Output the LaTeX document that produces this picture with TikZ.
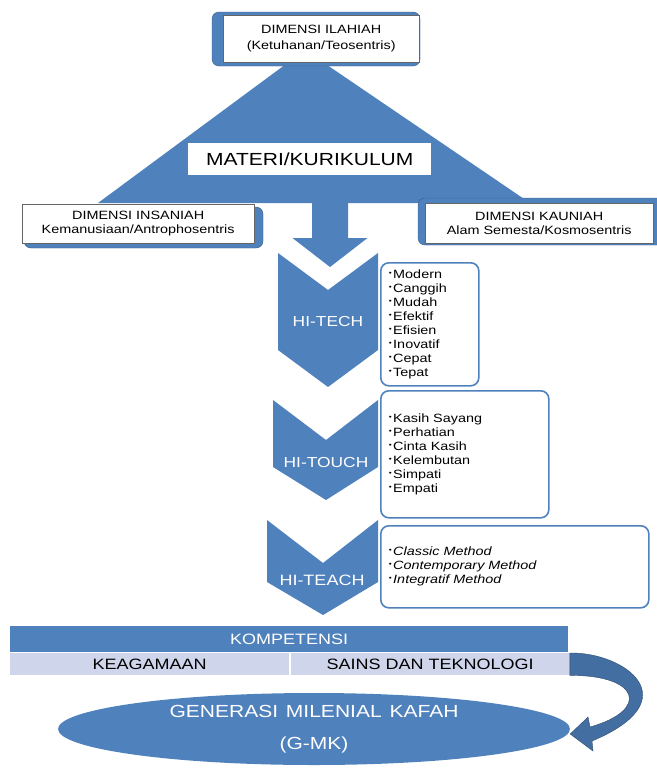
\documentclass[tikz,border=0pt]{standalone}
\usepackage{fontspec}
\setmainfont{Liberation Sans}[FakeStretch=1.2]
\usepackage{tikz}
\usetikzlibrary{positioning,shapes.geometric}
\definecolor{biru}{HTML}{4F81BD}
\definecolor{lembayung}{HTML}{CFD5EA}
\newcommand{\itm}{\raisebox{0.5ex}{\fontsize{7}{7}\selectfont\textbullet}\hspace{1.5pt}}

\begin{document}
\begin{tikzpicture}[x=1pt,y=-1pt,font=\fontsize{12}{16}\selectfont]
  \tikzstyle{dimback}=[fill=biru,draw=biru!70!black,thin,rounded corners=7pt]
  \tikzstyle{dimbox}=[fill=white,draw=black!60,thin,align=center,inner sep=0pt,anchor=north west]
  \tikzstyle{chevtext}=[text=white,font=\fontsize{14.5}{14.5}\selectfont]
  \tikzstyle{listbox}=[draw=biru,line width=1.6pt,fill=white,rounded corners=8pt,anchor=north west,
                       align=left,inner xsep=8pt,inner ysep=0pt,font=\fontsize{12}{14}\selectfont]
  \tikzstyle{baris}=[fill=lembayung,minimum width=279,minimum height=22,inner sep=0pt,
                     font=\fontsize{15}{15}\selectfont]

  \useasboundingbox (0,0) rectangle (656,771);

  \fill[biru] (305,50) -- (530,203) -- (98,203) -- cycle;

  \fill[dimback] (212,12) rectangle (420,66);
  \node[dimbox,minimum width=196,minimum height=47] (I) at (223,15)
       {DIMENSI ILAHIAH\\(Ketuhanan/Teosentris)};
  \node[dimbox,draw=none,minimum width=243,minimum height=32,font=\fontsize{17.5}{17.5}\selectfont]
       (M) at (188,143) {MATERI/KURIKULUM};
  \fill[dimback] (24,207) rectangle (263,248);
  \node[dimbox,minimum width=232,minimum height=39,font=\fontsize{12}{14}\selectfont] (N) at (22,204)
       {DIMENSI INSANIAH\\Kemanusiaan/Antrophosentris};
  \fill[dimback] (418,198) rectangle (664,245);
  \node[dimbox,minimum width=228,minimum height=40,font=\fontsize{12}{14}\selectfont] (K) at (425,203)
       {DIMENSI KAUNIAH\\Alam Semesta/Kosmosentris};

  \coordinate (Tb) at (330,203);
  \coordinate (Tp) at (330,267);
  \fill[biru] (Tb) ++(-18,0) -- ++(0,35) -- ++(-19.5,0) -- (Tp) -- ++(37.5,-29) -- ++(-19.5,0) -- ++(0,-35) -- cycle;

  \fill[biru] (278,253) -- (328,290) -- (378,253) -- (378,350) -- (328,387) -- (278,350) -- cycle;
  \node[chevtext] (HT) at (328,322) {HI-TECH};
  \fill[biru] (273,400) -- (326,440) -- (378,400) -- (378,467) -- (326,500) -- (273,467) -- cycle;
  \node[chevtext] (HO) at (326,463) {HI-TOUCH};
  \fill[biru] (267,520) -- (323,563) -- (378,520) -- (378,582) -- (323,615) -- (267,582) -- cycle;
  \node[chevtext,font=\fontsize{15}{15}\selectfont] (HA) at (322,580) {HI-TEACH};

  \node[listbox,text width=82,minimum height=123] (L1) at (380,262)
       {\itm Modern\\\itm Canggih\\\itm Mudah\\\itm Efektif\\\itm Efisien\\\itm Inovatif\\\itm Cepat\\\itm Tepat};
  \node[listbox,text width=152,minimum height=127] (L2) at (380,390)
       {\itm Kasih Sayang\\\itm Perhatian\\\itm Cinta Kasih\\\itm Kelembutan\\\itm Simpati\\\itm Empati};
  \node[listbox,text width=252,minimum height=82] (L3) at (380,525)
       {\itm\textit{Classic Method}\\\itm\textit{Contemporary Method}\\\itm\textit{Integratif Method}};

  \node[fill=biru,text=white,minimum width=558,minimum height=26,inner sep=0pt,anchor=north west,
        font=\fontsize{15}{15}\selectfont] (KP) at (10,626) {KOMPETENSI};
  \node[baris,anchor=north west] (KA) at (10,653) {KEAGAMAAN};
  \node[baris,right=1pt of KA] (ST) {SAINS DAN TEKNOLOGI};

  \node[ellipse,fill=biru,text=white,minimum width=512,minimum height=72,inner sep=0pt,align=center,
        font=\fontsize{17.5}{32}\selectfont] (G) at (314,729)
       {GENERASI\hspace{.45em}MILENIAL\hspace{.45em}KAFAH\\(G-MK)};

  \fill[biru!85!black,draw=biru!60!black,thin] (ST.north east) .. controls (625,652) and (690,700) .. (592,741)
       -- (593,751) -- ([yshift=-5pt]G.east) -- (588,717) -- (590,727)
       .. controls (650,710) and (640,675) .. (ST.south east) -- cycle;
\end{tikzpicture}
\end{document}
